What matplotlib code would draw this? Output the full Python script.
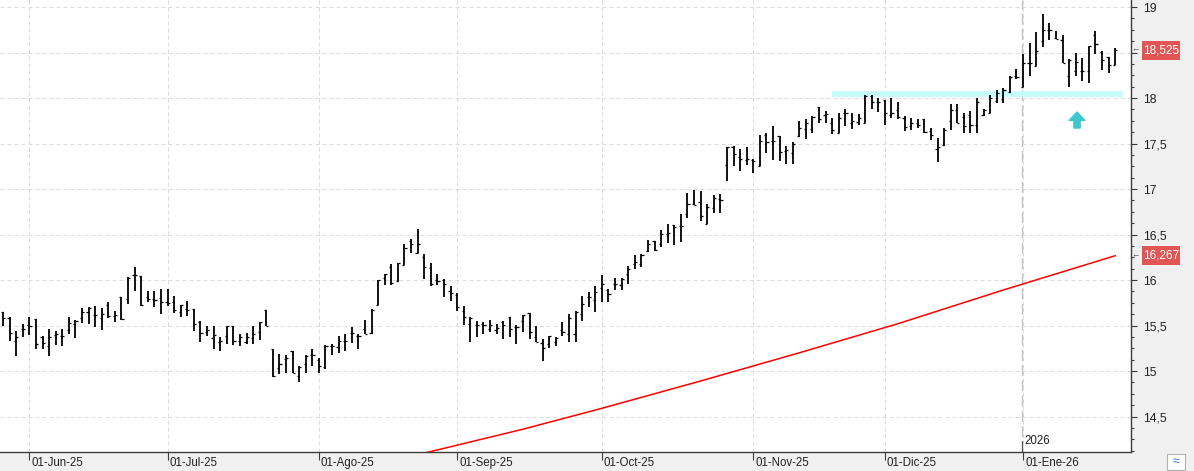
import matplotlib.pyplot as plt
import numpy as np
import pandas as pd
from matplotlib.ticker import MultipleLocator, FuncFormatter
from matplotlib.patches import Rectangle

plt.rcParams['font.family'] = ['Liberation Sans', 'DejaVu Sans']

# sesiones diarias 27-may-2025 .. 22-ene-2026 (mercado cerrado 25/26-dic y 1-ene)
festivos = ['2025-12-25', '2025-12-26', '2026-01-01']
fechas = pd.bdate_range('2025-05-27', '2026-01-22', freq='C', holidays=festivos)
meses = ['Jun', 'Jul', 'Ago', 'Sep', 'Oct', 'Nov', 'Dic', 'Ene']

opens = [
    15.65, 15.58, 15.33, 15.46, 15.51, 15.57, 15.37, 15.28, 15.40, 15.39,
    15.45, 15.52, 15.58, 15.65, 15.61, 15.58, 15.72, 15.60, 15.81, 15.79,
    16.06, 16.04, 15.81, 15.79, 15.80, 15.76, 15.76, 15.65, 15.68, 15.68,
    15.54, 15.43, 15.36, 15.32, 15.39, 15.50, 15.33, 15.32, 15.36, 15.43,
    15.67, 15.24, 15.03, 15.13, 15.22, 14.95, 15.08, 15.18, 15.12, 15.04,
    15.27, 15.26, 15.33, 15.42, 15.38, 15.46, 15.42, 15.73, 16.02, 16.14,
    15.99, 16.17, 16.43, 16.30, 16.25, 16.13, 16.00, 16.00, 15.88, 15.83,
    15.66, 15.52, 15.51, 15.52, 15.46, 15.45, 15.54, 15.59, 15.48, 15.55,
    15.64, 15.37, 15.31, 15.30, 15.32, 15.45, 15.41, 15.41, 15.63, 15.81,
    15.78, 15.91, 15.89, 15.96, 15.94, 16.07, 16.18, 16.18, 16.32, 16.43,
    16.40, 16.51, 16.60, 16.59, 16.72, 16.84, 16.86, 16.62, 16.79, 16.89,
    17.26, 17.46, 17.35, 17.32, 17.32, 17.25, 17.59, 17.53, 17.58, 17.42,
    17.40, 17.58, 17.66, 17.66, 17.90, 17.81, 17.72, 17.62, 17.83, 17.73,
    17.74, 17.73, 18.02, 17.96, 17.98, 17.81, 17.87, 17.78, 17.69, 17.72,
    17.77, 17.64, 17.44, 17.48, 17.75, 17.87, 17.79, 17.81, 17.70, 17.81,
    17.83, 17.97, 17.99, 18.07, 18.24, 18.12, 18.38, 18.35, 18.63, 18.75,
    18.66, 18.64, 18.24, 18.30, 18.30, 18.30, 18.69, 18.51, 18.45, 18.36,
]
highs = [
    15.65, 15.59, 15.44, 15.52, 15.59, 15.57, 15.39, 15.46, 15.44, 15.46,
    15.59, 15.56, 15.69, 15.70, 15.71, 15.69, 15.76, 15.66, 15.81, 16.03,
    16.14, 16.04, 15.88, 15.88, 15.90, 15.90, 15.82, 15.73, 15.77, 15.68,
    15.55, 15.49, 15.49, 15.37, 15.50, 15.50, 15.41, 15.42, 15.49, 15.54,
    15.67, 15.24, 15.19, 15.18, 15.22, 15.06, 15.18, 15.24, 15.14, 15.29,
    15.30, 15.38, 15.41, 15.48, 15.41, 15.56, 15.68, 16.00, 16.07, 16.18,
    16.19, 16.40, 16.45, 16.56, 16.29, 16.19, 16.07, 16.01, 15.93, 15.86,
    15.71, 15.59, 15.55, 15.54, 15.56, 15.52, 15.55, 15.59, 15.51, 15.62,
    15.64, 15.49, 15.35, 15.39, 15.37, 15.54, 15.63, 15.66, 15.82, 15.87,
    15.93, 16.05, 15.90, 16.02, 16.02, 16.15, 16.28, 16.29, 16.44, 16.43,
    16.55, 16.62, 16.60, 16.72, 16.96, 16.99, 16.98, 16.84, 16.93, 16.95,
    17.46, 17.47, 17.44, 17.46, 17.33, 17.59, 17.61, 17.69, 17.58, 17.47,
    17.52, 17.75, 17.77, 17.80, 17.90, 17.86, 17.78, 17.83, 17.88, 17.84,
    17.82, 18.03, 18.03, 18.00, 17.98, 18.00, 17.96, 17.80, 17.78, 17.77,
    17.77, 17.67, 17.56, 17.67, 17.93, 17.93, 17.84, 17.86, 18.00, 17.88,
    18.03, 18.09, 18.11, 18.24, 18.32, 18.48, 18.60, 18.73, 18.92, 18.82,
    18.74, 18.69, 18.43, 18.50, 18.44, 18.57, 18.74, 18.52, 18.45, 18.55,
]
lows = [
    15.50, 15.33, 15.17, 15.37, 15.40, 15.24, 15.24, 15.16, 15.29, 15.28,
    15.41, 15.36, 15.53, 15.52, 15.48, 15.45, 15.58, 15.54, 15.56, 15.74,
    15.88, 15.71, 15.76, 15.70, 15.63, 15.71, 15.64, 15.59, 15.60, 15.44,
    15.32, 15.39, 15.24, 15.22, 15.30, 15.29, 15.28, 15.30, 15.30, 15.34,
    15.49, 14.93, 14.97, 14.98, 14.98, 14.88, 14.98, 15.06, 14.98, 15.02,
    15.18, 15.20, 15.22, 15.31, 15.24, 15.41, 15.41, 15.72, 15.95, 15.94,
    15.98, 16.17, 16.30, 16.30, 16.01, 15.93, 15.94, 15.81, 15.77, 15.66,
    15.51, 15.32, 15.37, 15.41, 15.43, 15.41, 15.35, 15.37, 15.30, 15.43,
    15.35, 15.32, 15.11, 15.25, 15.28, 15.38, 15.32, 15.32, 15.55, 15.70,
    15.65, 15.76, 15.76, 15.89, 15.89, 15.96, 16.12, 16.14, 16.31, 16.32,
    16.36, 16.41, 16.39, 16.42, 16.68, 16.82, 16.65, 16.62, 16.74, 16.74,
    17.09, 17.25, 17.20, 17.26, 17.18, 17.25, 17.40, 17.32, 17.31, 17.28,
    17.27, 17.57, 17.55, 17.62, 17.72, 17.72, 17.60, 17.61, 17.69, 17.66,
    17.70, 17.72, 17.88, 17.85, 17.70, 17.78, 17.77, 17.64, 17.65, 17.67,
    17.61, 17.54, 17.30, 17.47, 17.65, 17.72, 17.62, 17.61, 17.61, 17.80,
    17.83, 17.95, 17.94, 18.06, 18.21, 18.12, 18.24, 18.35, 18.56, 18.64,
    18.65, 18.39, 18.12, 18.24, 18.19, 18.17, 18.48, 18.31, 18.27, 18.36,
]
closes = [
    15.58, 15.42, 15.37, 15.46, 15.50, 15.30, 15.31, 15.37, 15.41, 15.39,
    15.53, 15.55, 15.65, 15.69, 15.62, 15.63, 15.60, 15.61, 15.57, 16.02,
    16.06, 15.72, 15.79, 15.78, 15.76, 15.75, 15.67, 15.72, 15.67, 15.52,
    15.42, 15.45, 15.40, 15.33, 15.49, 15.33, 15.37, 15.37, 15.41, 15.54,
    15.50, 14.94, 15.08, 15.14, 14.98, 15.04, 15.17, 15.18, 15.05, 15.28,
    15.27, 15.33, 15.33, 15.42, 15.39, 15.41, 15.67, 16.00, 16.07, 15.97,
    16.19, 16.35, 16.40, 16.40, 16.14, 15.96, 15.99, 15.96, 15.86, 15.70,
    15.59, 15.58, 15.51, 15.51, 15.51, 15.47, 15.51, 15.46, 15.48, 15.61,
    15.43, 15.32, 15.25, 15.38, 15.36, 15.43, 15.58, 15.65, 15.74, 15.81,
    15.87, 15.96, 15.85, 15.96, 16.01, 16.12, 16.20, 16.28, 16.40, 16.33,
    16.51, 16.52, 16.58, 16.59, 16.83, 16.82, 16.70, 16.80, 16.90, 16.88,
    17.46, 17.39, 17.33, 17.33, 17.31, 17.53, 17.52, 17.53, 17.41, 17.43,
    17.49, 17.67, 17.72, 17.79, 17.77, 17.82, 17.65, 17.78, 17.83, 17.75,
    17.78, 18.02, 17.96, 17.96, 17.83, 17.84, 17.79, 17.68, 17.73, 17.70,
    17.63, 17.59, 17.46, 17.65, 17.87, 17.73, 17.69, 17.70, 17.96, 17.87,
    18.00, 18.06, 18.09, 18.23, 18.23, 18.38, 18.38, 18.52, 18.75, 18.75,
    18.65, 18.39, 18.42, 18.40, 18.30, 18.57, 18.59, 18.42, 18.36, 18.525,
]

# media movil (roja), leida a ojo en algunos puntos: (sesion, valor)
media_idx = [59, 79, 91, 106, 121, 136, 152, 169]
media_val = [14.01, 14.36, 14.59, 14.89, 15.20, 15.52, 15.89, 16.267]

# linea horizontal cian y flecha
nivel = 18.04
nivel_desde, nivel_hasta = 126, 170.2
flecha_x, flecha_y0, flecha_y1 = 163.2, 17.67, 17.846

x = np.arange(len(fechas))
opens, highs, lows, closes = map(np.array, (opens, highs, lows, closes))

fig = plt.figure(figsize=(11.94, 4.71), dpi=100, facecolor='#f0f0f0')
ax = fig.add_axes([0, 19 / 471, 1131 / 1194, 452 / 471])
ax.set_facecolor('white')
ax.set_xlim(-0.46, 171.4)
ax.set_ylim(14.11, 19.077)

# grid
ax.set_axisbelow(True)
ax.grid(True, which='major', color='#dcdcdc', lw=0.72, ls=(0, (4, 3)))

# barras OHLC
ax.vlines(x, lows, highs, color='black', lw=1.3, zorder=4)
ax.hlines(opens, x - 0.33, x, color='black', lw=0.9, zorder=4)
ax.hlines(closes, x, x + 0.33, color='black', lw=0.9, zorder=4)

ax.plot(media_idx, media_val, color='red', lw=1.1, zorder=3)

ax.plot([nivel_desde, nivel_hasta], [nivel, nivel], color='#c8fbfc', lw=4.2,
        solid_capstyle='butt', zorder=2.6)
ax.annotate('', xy=(flecha_x, flecha_y1), xytext=(flecha_x, flecha_y0),
            arrowprops=dict(arrowstyle='simple,head_length=0.8,head_width=1.5,tail_width=0.6',
                            color='#3cc8cc', shrinkA=0, shrinkB=0, mutation_scale=7.5),
            zorder=5)

# ejes
for s in ['left', 'top']:
    ax.spines[s].set_visible(False)
for s in ['right', 'bottom']:
    ax.spines[s].set_color('#3c3c3c')
    ax.spines[s].set_linewidth(1.0)


def etiqueta(v, p):
    # la etiqueta 18,5 queda tapada por la marca del ultimo precio
    if abs(v - 18.5) < 1e-6:
        return ''
    return f'{v:g}'.replace('.', ',')


ax.yaxis.tick_right()
ax.yaxis.set_major_locator(MultipleLocator(0.5))
ax.yaxis.set_minor_locator(MultipleLocator(0.125))
ax.yaxis.set_major_formatter(FuncFormatter(etiqueta))
ax.tick_params(axis='y', which='major', length=4.3, width=0.8, colors='#3c3c3c',
               pad=4.3, labelsize=8.8, labelcolor='#222222')
ax.tick_params(axis='y', which='minor', length=2.5, width=0.8, colors='#3c3c3c')

mes_ini = [i for i in range(1, len(fechas)) if fechas[i].month != fechas[i - 1].month]
ax.set_xticks(mes_ini)
ax.set_xticklabels([])
ax.tick_params(axis='x', length=5.8, width=0.8, colors='#3c3c3c')
for i, m in zip(mes_ini, meses):
    ax.text(i + 0.3, -11 / 452, f'01-{m}-{fechas[i]:%y}', transform=ax.get_xaxis_transform(),
            ha='left', va='center', fontsize=8.3, color='#222222', clip_on=False)

# separador de año
i_año = next(i for i in range(len(fechas)) if fechas[i].year == 2026)
ax.axvline(i_año - 0.2, color='#c4c4c4', lw=1.0, ls=(0, (8, 3)), zorder=1)
ax.plot([i_año - 0.2, i_año - 0.2], [0, 11 / 452], color='#555555', lw=0.8,
        transform=ax.get_xaxis_transform())
ax.text(i_año + 0.2, 11 / 452, '2026', transform=ax.get_xaxis_transform(),
        ha='left', va='center', fontsize=8.3, color='#222222')

# etiquetas de precio
bt = ax.get_yaxis_transform()
for v in [closes[-1], media_val[-1]]:
    ax.add_patch(Rectangle((1142 / 1131, v - 0.105), 38 / 1131, 0.21, transform=bt,
                           facecolor='#e25555', edgecolor='none', clip_on=False, zorder=6))
    ax.text(1161 / 1131, v, f'{v:.3f}'.replace('.', ','), transform=bt, ha='center',
            va='center', fontsize=8.5, color='white', clip_on=False, zorder=7)
    ax.text(1135.5 / 1131, v, '←', transform=bt, ha='center', va='center',
            fontsize=6, color='#444444', clip_on=False, zorder=7)

# icono abajo a la derecha
fig.patches.append(Rectangle((1167 / 1194, 1 / 471), 18 / 1194, 16 / 471,
                             transform=fig.transFigure, facecolor='white',
                             edgecolor='#b0b0b0', lw=0.8))
fig.text(1176 / 1194, 9 / 471, '≈', ha='center', va='center', fontsize=9, color='#3a78d8')

fig.savefig('out.png', dpi=100, facecolor=fig.get_facecolor())
